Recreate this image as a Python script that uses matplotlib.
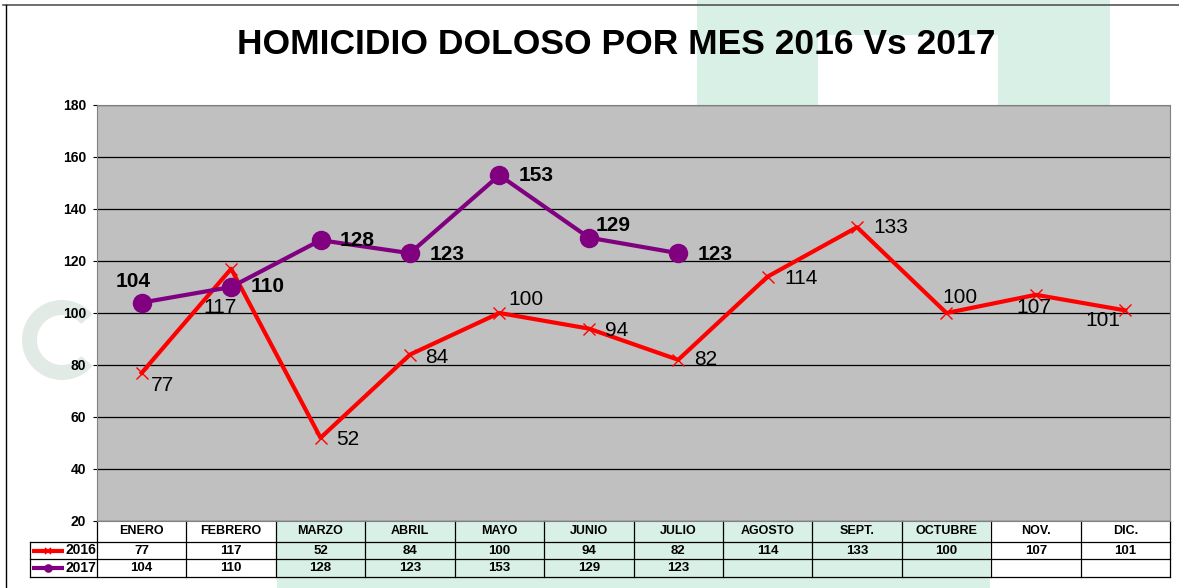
import numpy as np
import matplotlib.pyplot as plt
from matplotlib.lines import Line2D
from matplotlib.patches import Rectangle, Wedge
from matplotlib.transforms import IdentityTransform

plt.rcParams['font.family'] = ['Liberation Sans', 'DejaVu Sans']

months = ['ENERO', 'FEBRERO', 'MARZO', 'ABRIL', 'MAYO', 'JUNIO', 'JULIO',
          'AGOSTO', 'SEPT.', 'OCTUBRE', 'NOV.', 'DIC.']
vals_2016 = [77, 117, 52, 84, 100, 94, 82, 114, 133, 100, 107, 101]
vals_2017 = [104, 110, 128, 123, 153, 129, 123]
title = 'HOMICIDIO DOLOSO POR MES 2016 Vs 2017'

# label offsets in points (left edge / vertical centre of each data label)
off_2016 = [(6.5, -9), (-20, -28), (11.5, -1.5), (11, -2), (6.5, 10), (12, -1.5),
            (11.5, 0), (12, -1.5), (12, 0), (-3, 11), (-14, -9.5), (-29, -7)]
off_2017 = [(-19, 15), (14, 0), (14, 0), (14, -1), (14, 0), (5, 9), (14, -1)]

red = '#FF0000'
purple = '#800080'
wm = '#d8f0e5'  # faint watermark green

W, H = 1179.0, 588.0
fig = plt.figure(figsize=(11.79, 5.88), dpi=100)
fig.patch.set_facecolor('white')

# faint background watermark shapes
for x0, y0, x1, y1 in [(697, 0, 1110, 35), (697, 0, 818, 105), (998, 30, 1110, 105),
                       (277, 521, 990, 588)]:
    fig.add_artist(Rectangle((x0 / W, 1 - y1 / H), (x1 - x0) / W, (y1 - y0) / H,
                             color=wm, lw=0, zorder=-5))
fig.add_artist(Wedge((62, H - 340), 40, 40, 320, width=15, color='#e2eae5', lw=0,
                     zorder=-5, transform=IdentityTransform()))

# outer frame
fig.add_artist(Line2D([3 / W, 1], [1 - 5 / H, 1 - 5 / H], color='#555555', lw=1.2))
fig.add_artist(Line2D([6 / W, 6 / W], [0, 1 - 5 / H], color='black', lw=1.0))

ax = fig.add_axes([97 / W, 1 - 521 / H, 1073 / W, 416 / H])
ax.set_facecolor('#C0C0C0')
ax.set_xlim(-0.5, 11.5)
ax.set_ylim(20, 180)
ax.set_yticks(np.arange(20, 181, 20))
ax.yaxis.grid(True, color='black', lw=0.9)
ax.set_axisbelow(True)
ax.set_xticks([])
for t in ax.get_yticklabels():
    t.set_fontweight('bold')
    t.set_fontsize(10)
ax.tick_params(axis='y', length=3, width=0.8, pad=5)
for s in ax.spines.values():
    s.set_color('#808080')

x16 = np.arange(len(vals_2016))
x17 = np.arange(len(vals_2017))
ax.plot(x16, vals_2016, color=red, lw=3, marker='x', ms=9, mew=1.0, zorder=3)
ax.plot(x17, vals_2017, color=purple, lw=3, marker='o', ms=13, zorder=4)

for x, v, o in zip(x16, vals_2016, off_2016):
    ax.annotate(str(v), (x, v), xytext=o, textcoords='offset points',
                fontsize=15, ha='left', va='center', zorder=5)
for x, v, o in zip(x17, vals_2017, off_2017):
    ax.annotate(str(v), (x, v), xytext=o, textcoords='offset points',
                fontsize=15, fontweight='bold', ha='left', va='center', zorder=5)

fig.text(616 / W, 1 - 45 / H, title, fontsize=25.5, fontweight='bold',
         ha='center', va='center')

# data table below the axes (axes coords)
h = 416.0
r0, r1, r2, r3 = 0, -21 / h, -38 / h, -56 / h
lab_left = -67 / 1073.0
kw = dict(transform=ax.transAxes, clip_on=False, color='black', lw=0.9)
n = len(months)
ax.plot([0, 1], [r1, r1], **kw)
ax.plot([lab_left, 1], [r2, r2], **kw)
ax.plot([lab_left, 1], [r3, r3], **kw)
ax.plot([lab_left, 0], [r1, r1], **kw)
ax.plot([lab_left, lab_left], [r1, r3], **kw)
for i in range(n + 1):
    ax.plot([i / n, i / n], [r0, r3], **kw)

for i, m in enumerate(months):
    cx = (i + 0.5) / n
    ax.text(cx, (r0 + r1) / 2, m, transform=ax.transAxes, ha='center', va='center',
            fontsize=9, fontweight='bold')
    ax.text(cx, (r1 + r2) / 2, str(vals_2016[i]), transform=ax.transAxes,
            ha='center', va='center', fontsize=9.5, fontweight='bold')
    if i < len(vals_2017):
        ax.text(cx, (r2 + r3) / 2, str(vals_2017[i]), transform=ax.transAxes,
                ha='center', va='center', fontsize=9.5, fontweight='bold')

# legend keys in the row labels
for (ya, yb), col, mk, ms, lbl in [((r1, r2), red, 'x', 4, '2016'),
                                    ((r2, r3), purple, 'o', 5, '2017')]:
    yc = (ya + yb) / 2
    ax.plot([lab_left + 2 / 1073, lab_left + 34 / 1073], [yc, yc], color=col, lw=3,
            transform=ax.transAxes, clip_on=False, solid_capstyle='butt')
    ax.plot([lab_left + 18 / 1073], [yc], color=col, marker=mk, ms=ms, mew=1.2,
            transform=ax.transAxes, clip_on=False)
    ax.text(lab_left + 35 / 1073, yc, lbl, transform=ax.transAxes, ha='left',
            va='center', fontsize=10, fontweight='bold')

fig.savefig('out.png', dpi=100)
